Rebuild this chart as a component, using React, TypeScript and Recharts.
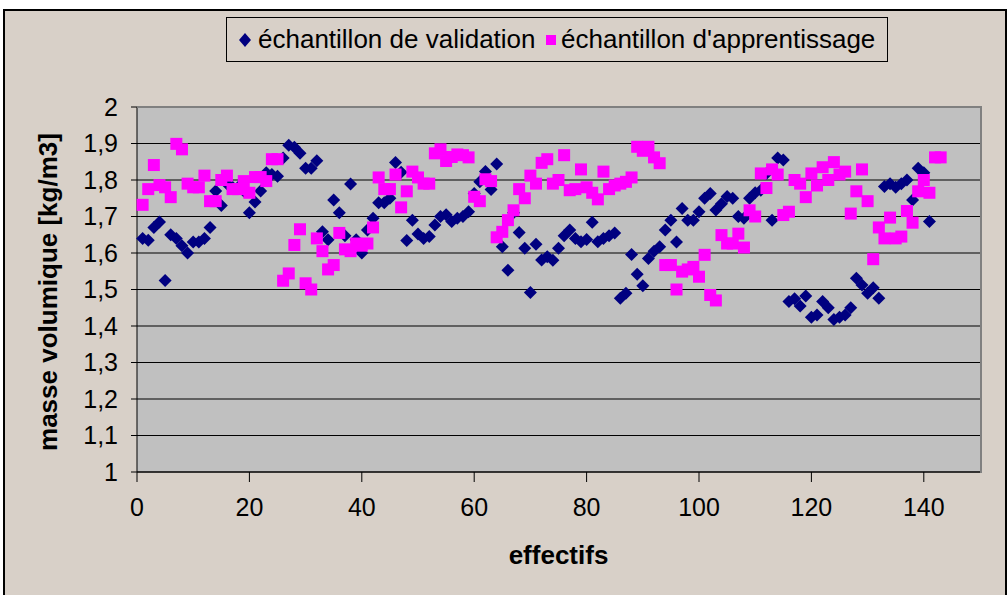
import React from "react";
import { ScatterChart, Scatter, XAxis, YAxis, CartesianGrid } from "recharts";

// échantillon de validation, effectifs 1..141
const VALIDATION = [
  1.64, 1.635, 1.67, 1.685, 1.525, 1.65, 1.64, 1.62, 1.6, 1.63,
  1.63, 1.64, 1.67, 1.77, 1.73, 1.79, 1.78, 1.78, 1.77, 1.71,
  1.74, 1.77, 1.82, 1.815, 1.81, 1.86, 1.895, 1.89, 1.873, 1.832,
  1.832, 1.853, 1.658, 1.636, 1.745, 1.71, 1.647, 1.789, 1.636, 1.6,
  1.663, 1.695, 1.738, 1.738, 1.75, 1.848, 1.821, 1.634, 1.69, 1.652,
  1.64, 1.645, 1.677, 1.7, 1.705, 1.686, 1.695, 1.7, 1.713, 1.763,
  1.795, 1.823, 1.774, 1.844, 1.617, 1.553, 1.71, 1.656, 1.613, 1.492,
  1.624, 1.581, 1.59, 1.58, 1.613, 1.647, 1.663, 1.64, 1.631, 1.637,
  1.684, 1.631, 1.64, 1.647, 1.655, 1.476, 1.49, 1.596, 1.542, 1.51,
  1.585, 1.605, 1.617, 1.663, 1.69, 1.63, 1.722, 1.69, 1.69, 1.713,
  1.75, 1.763, 1.718, 1.735, 1.755, 1.75, 1.7, 1.695, 1.75, 1.765,
  1.772, 1.818, 1.69, 1.86, 1.855, 1.467, 1.475, 1.455, 1.482, 1.424,
  1.43, 1.467, 1.45, 1.418, 1.424, 1.43, 1.45, 1.531, 1.512, 1.49,
  1.505, 1.476, 1.782, 1.79, 1.78, 1.79, 1.8, 1.745, 1.832, 1.82,
  1.686,
];

// échantillon d'apprentissage, effectifs 1..143
const APPRENTISSAGE = [
  1.732, 1.775, 1.841, 1.786, 1.78, 1.753, 1.899, 1.884, 1.79, 1.78,
  1.78, 1.812, 1.742, 1.742, 1.8, 1.812, 1.775, 1.775, 1.797, 1.765,
  1.808, 1.808, 1.797, 1.857, 1.857, 1.524, 1.544, 1.622, 1.665, 1.517,
  1.5, 1.64, 1.605, 1.555, 1.567, 1.655, 1.61, 1.605, 1.626, 1.62,
  1.626, 1.67, 1.807, 1.775, 1.775, 1.815, 1.725, 1.769, 1.823, 1.807,
  1.79, 1.79, 1.873, 1.884, 1.852, 1.863, 1.87, 1.868, 1.862, 1.754,
  1.742, 1.802, 1.797, 1.643, 1.658, 1.69, 1.717, 1.775, 1.75, 1.812,
  1.79, 1.847, 1.857, 1.79, 1.8, 1.868, 1.772, 1.775, 1.829, 1.78,
  1.765, 1.747, 1.823, 1.775, 1.785, 1.79, 1.795, 1.807, 1.891, 1.88,
  1.891, 1.862, 1.846, 1.567, 1.567, 1.5, 1.549, 1.555, 1.562, 1.535,
  1.595, 1.485, 1.47, 1.649, 1.626, 1.626, 1.653, 1.615, 1.717, 1.7,
  1.818, 1.778, 1.829, 1.815, 1.704, 1.713, 1.8, 1.79, 1.753, 1.818,
  1.785, 1.835, 1.8, 1.849, 1.815, 1.823, 1.708, 1.769, 1.829, 1.742,
  1.583, 1.67, 1.64, 1.697, 1.64, 1.645, 1.715, 1.683, 1.769, 1.8,
  1.765, 1.862, 1.862,
];

const X_TICKS = [0, 20, 40, 60, 80, 100, 120, 140];
const Y_TICKS = [1, 1.1, 1.2, 1.3, 1.4, 1.5, 1.6, 1.7, 1.8, 1.9, 2];

const NAVY = "#000080";
const MAGENTA = "#FF00FF";
const BG = "#D8D0C8";

const validationData = VALIDATION.map((y, i) => ({ x: i + 1, y }));
const apprentissageData = APPRENTISSAGE.map((y, i) => ({ x: i + 1, y }));

function formatY(v: number) {
  return Number.isInteger(v) ? String(v) : v.toFixed(1).replace(".", ",");
}

// marqueurs façon Excel
function Diamond(props: any) {
  const { cx, cy } = props;
  const r = 6.5;
  return (
    <polygon
      points={`${cx},${cy - r} ${cx + r},${cy} ${cx},${cy + r} ${cx - r},${cy}`}
      fill={NAVY}
    />
  );
}

function Square(props: any) {
  const { cx, cy } = props;
  return <rect x={cx - 6} y={cy - 6} width={12} height={12} fill={MAGENTA} />;
}

export default function App() {
  return (
    <div
      style={{
        position: "absolute",
        left: 0,
        top: 0,
        width: 1008,
        height: 595,
        overflow: "hidden",
        background: "#fff",
        fontFamily: '"Liberation Sans", Arial, sans-serif',
      }}
    >
      <div
        style={{
          position: "absolute",
          left: 3,
          top: 9,
          width: 1000,
          height: 600,
          background: BG,
          border: "2px solid #000",
        }}
      />

      <ScatterChart
        width={1008}
        height={595}
        margin={{ top: 107, right: 28, bottom: 0, left: 0 }}
        style={{ position: "absolute", left: 0, top: 0 }}
      >
        <CartesianGrid vertical={false} stroke="#000" strokeWidth={1} fill="#C0C0C0" fillOpacity={1} />
        <XAxis
          type="number"
          dataKey="x"
          domain={[0, 150]}
          ticks={X_TICKS}
          interval={0}
          height={123}
          tickSize={10}
          tickMargin={16}
          stroke="#000"
          tick={{ fontSize: 25, fill: "#000" }}
        />
        <YAxis
          type="number"
          dataKey="y"
          domain={[1, 2]}
          ticks={Y_TICKS}
          interval={0}
          width={137}
          tickSize={6}
          tickMargin={13}
          stroke="#000"
          tickFormatter={formatY}
          tick={{ fontSize: 25, fill: "#000" }}
        />
        <Scatter data={validationData} shape={Diamond} isAnimationActive={false} />
        <Scatter data={apprentissageData} shape={Square} isAnimationActive={false} />
      </ScatterChart>

      {/* bord du cadre du tracé */}
      <div
        style={{
          position: "absolute",
          left: 137,
          top: 106,
          width: 845,
          height: 367,
          boxSizing: "border-box",
          borderTop: "2px solid #808080",
          borderRight: "2px solid #808080",
          pointerEvents: "none",
        }}
      />

      {/* légende */}
      <div
        style={{
          position: "absolute",
          left: 226,
          top: 17,
          width: 660,
          height: 43,
          border: "1px solid #000",
          background: BG,
          fontSize: 26,
          lineHeight: "26px",
        }}
      >
        <svg style={{ position: "absolute", left: 12, top: 15 }} width={12} height={14}>
          <polygon points="6,0 12,7 6,14 0,7" fill={NAVY} />
        </svg>
        <span style={{ position: "absolute", left: 31, top: 8, whiteSpace: "nowrap" }}>
          échantillon de validation
        </span>
        <svg style={{ position: "absolute", left: 319, top: 17 }} width={10} height={10}>
          <rect x={0} y={0} width={10} height={10} fill={MAGENTA} />
        </svg>
        <span style={{ position: "absolute", left: 334, top: 8, whiteSpace: "nowrap" }}>
          échantillon d'apprentissage
        </span>
      </div>

      {/* titres des axes */}
      <div
        style={{
          position: "absolute",
          left: 137,
          width: 843,
          top: 542,
          textAlign: "center",
          fontWeight: "bold",
          fontSize: 26,
          lineHeight: "26px",
        }}
      >
        effectifs
      </div>
      <div
        style={{
          position: "absolute",
          left: 48 - 200,
          top: 292 - 13,
          width: 400,
          textAlign: "center",
          fontWeight: "bold",
          fontSize: 26,
          lineHeight: "26px",
          transform: "rotate(-90deg)",
        }}
      >
        masse volumique [kg/m3]
      </div>
    </div>
  );
}
